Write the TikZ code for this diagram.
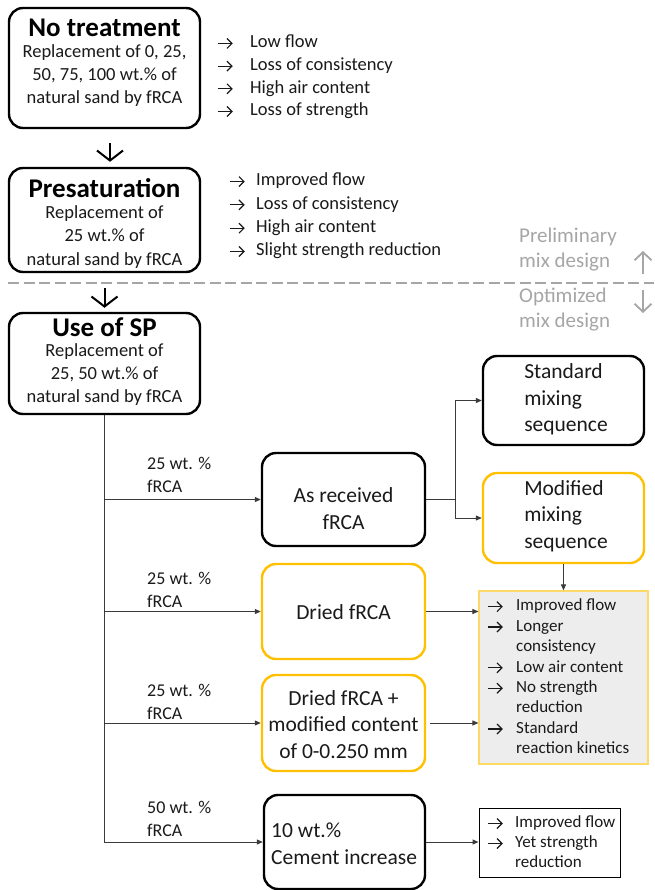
\documentclass[tikz,border=0pt]{standalone}
\usepackage{fontspec}
\setmainfont{Carlito}
\usetikzlibrary{arrows.meta,calc}
\definecolor{orng}{HTML}{FFC000}
\definecolor{grayline}{HTML}{A6A6A6}
\definecolor{txt}{HTML}{1A1A1A}
\definecolor{conncol}{HTML}{3A3A3A}
\definecolor{gbfill}{HTML}{EDEDED}
\definecolor{gbdraw}{HTML}{FFD966}
\newcommand\rarr{\tikz[baseline={(0pt,-4.3pt)}]\draw[line width=1.2pt,-{Straight Barb[length=5pt,width=10pt,line width=1.2pt]}] (0pt,0pt) -- (15pt,0pt);}
\newcommand\itm[2][27pt]{\makebox[#1][l]{\rarr}#2}
\tikzset{
  bx/.style={draw, line width=2.4pt, rounded corners=14pt, inner sep=0pt},
  bxk/.style={bx, draw=black},
  bxo/.style={bx, draw=orng},
  ttl/.style={font=\fontsize{27}{30}\selectfont\bfseries, inner sep=0pt, text=black},
  body/.style={font=\fontsize{18.5}{22.7}\selectfont, align=center, inner sep=0pt, text=txt},
  lst/.style={font=\fontsize{18.5}{22.7}\selectfont, align=left, inner sep=0pt, anchor=west, text=txt},
  lbl/.style={font=\fontsize{18}{23}\selectfont, align=left, inner sep=0pt, anchor=west, text=txt},
  mid/.style={font=\fontsize{21.5}{26.5}\selectfont, align=center, inner sep=0pt, text=txt},
  midl/.style={font=\fontsize{21.5}{26.5}\selectfont, align=left, inner sep=0pt, text=txt},
  sml/.style={font=\fontsize{17}{20.4}\selectfont, align=left, inner sep=0pt, anchor=west, text=txt},
  gtxt/.style={font=\fontsize{21}{25}\selectfont, align=left, inner sep=0pt, anchor=west, text=grayline},
  conn/.style={draw=conncol, line width=1pt},
  tip/.style={-{Triangle[length=6pt,width=5pt]}},
  chev/.style={line width=2pt, -{Straight Barb[length=10pt,width=26pt,line width=2pt]}},
  gchev/.style={draw=grayline, line width=1.8pt, -{Straight Barb[length=8pt,width=17pt,line width=1.8pt]}},
}
\begin{document}
\begin{tikzpicture}[x=1pt,y=-1pt]
\useasboundingbox[fill=white] (0,0) rectangle (654,890);

% No treatment
\node[bxk, minimum width=191pt, minimum height=120pt] (nt) at (104.5,68) {};
\node[ttl] (ntT) at (104.5,28) {No treatment};
\node[body] (ntB) at (104.5,75.5) {Replacement of 0, 25,\\50, 75, 100 wt.\% of\\natural sand by fRCA};
\node[lst] (ntL) at (217,77) {\itm[33pt]{Low flow}\\\itm[33pt]{Loss of consistency}\\\itm[33pt]{High air content}\\\itm[33pt]{Loss of strength}};

% Presaturation
\node[bxk, minimum width=191pt, minimum height=104pt] (ps) at (104.5,220) {};
\node[ttl] (psT) at (104.5,188) {Presaturation};
\node[body, font=\fontsize{18.5}{23.5}\selectfont] (psB) at (104.5,237) {Replacement of\\25 wt.\% of\\natural sand by fRCA};
\node[lst, font=\fontsize{18.5}{23.3}\selectfont] (psL) at (229,216) {\itm[27pt]{Improved flow}\\\itm[27pt]{Loss of consistency}\\\itm[27pt]{High air content}\\\itm[27pt]{Slight strength reduction}};

\draw[chev, shorten <=14pt, shorten >=5pt] ([xshift=5.5pt]nt.south) -- ([xshift=5.5pt]nt.south |- ps.north);

% dashed separator
\coordinate (dl1) at (8,283);
\coordinate (dl2) at (654,283);
\draw[draw=grayline, line width=1.5pt, dash pattern=on 11pt off 4.5pt] (dl1) -- (dl2);
\node[gtxt] (pre) at (519,249.5) {Preliminary\\mix design};
\node[gtxt] (opt) at (519,309.5) {Optimized\\mix design};
\coordinate (ua1) at (643,274);
\coordinate (ua2) at (643,251);
\coordinate (da1) at (643,290);
\coordinate (da2) at (643,313);
\draw[gchev] (ua1) -- (ua2);
\draw[gchev] (da1) -- (da2);

% Use of SP
\node[bxk, minimum width=191pt, minimum height=101pt] (sp) at (104.5,363.5) {};
\node[ttl] (spT) at (104.5,327) {Use of SP};
\node[body, font=\fontsize{18.5}{23}\selectfont] (spB) at (104.5,375) {Replacement of\\25, 50 wt.\% of\\natural sand by fRCA};

\draw[chev, shorten <=15pt, shorten >=4pt] (ps.south) -- (sp.north);

% branch boxes
\node[bxk, minimum width=163pt, minimum height=93pt] (ar) at (343.5,499.5) {};
\node[mid] (arT) at (343.5,508.5) {As received\\fRCA};
\node[bxo, minimum width=163pt, minimum height=95pt] (dr) at (343.5,611.5) {};
\node[mid] (drT) at (343.5,612) {Dried fRCA};
\node[bxo, minimum width=163pt, minimum height=96pt] (dm) at (343.5,723) {};
\node[mid] (dmT) at (343.5,724.5) {Dried fRCA +\\modified content\\of 0-0.250 mm};
\node[bxk, minimum width=161pt, minimum height=94pt] (ci) at (344.5,842) {};
\node[midl, anchor=west] (ciT) at (271,843.5) {10 wt.\%\\Cement increase};

\node[bxk, minimum width=161pt, minimum height=89pt] (std) at (563.5,400.5) {};
\node[midl] (stdT) at (566,399.5) {Standard\\mixing\\sequence};
\node[bxo, minimum width=161pt, minimum height=90pt] (mod) at (563.5,518) {};
\node[midl] (modT) at (566,516) {Modified\\mixing\\sequence};

% result boxes
\node[draw=gbdraw, fill=gbfill, line width=1.2pt, minimum width=169pt, minimum height=173pt, inner sep=0pt] (gb) at (563.5,677.5) {};
\node[sml] (gbT) at (487,676.5) {\itm[29pt]{Improved flow}\\\itm[29pt]{Longer}\\\hspace*{29pt}consistency\\\itm[29pt]{Low air content}\\\itm[29pt]{No strength}\\\hspace*{29pt}reduction\\\itm[29pt]{Standard}\\\hspace*{29pt}reaction kinetics};
\node[draw=black, fill=white, line width=1pt, minimum width=141pt, minimum height=69pt, inner sep=0pt] (rb) at (549.5,842.5) {};
\node[sml, font=\fontsize{17}{20}\selectfont] (rbT) at (487,842) {\itm[28pt]{Improved flow}\\\itm[28pt]{Yet strength}\\\hspace*{28pt}reduction};

% labels
\node[lbl] (l1) at (147,474.5) {25 wt. \%\\fRCA};
\node[lbl] (l2) at (147,589.5) {25 wt. \%\\fRCA};
\node[lbl] (l3) at (147,701.5) {25 wt. \%\\fRCA};
\node[lbl] (l4) at (147,818.5) {50 wt. \%\\fRCA};

% connectors
\draw[conn, tip] (sp.south) |- (ci.west);
\draw[conn, tip] (sp.south |- ar.west) -- (ar.west);
\draw[conn, tip] (sp.south |- dr.west) -- (dr.west);
\draw[conn, tip] (sp.south |- dm.west) -- (dm.west);
\coordinate (jn) at ($(ar.east)+(29,0)$);
\draw[conn] (ar.east) -- (jn);
\draw[conn, tip] (jn) |- (std.west);
\draw[conn, tip] (jn) |- (mod.west);
\draw[conn, tip] (mod.south) -- (gb.north);
\draw[conn, tip] (dr.east) -- (dr.east -| gb.west);
\draw[conn, tip, shorten <=4pt] (dm.east) -- (dm.east -| gb.west);
\draw[conn, tip] (ci.east) -- (ci.east -| rb.west);
\end{tikzpicture}
\end{document}
